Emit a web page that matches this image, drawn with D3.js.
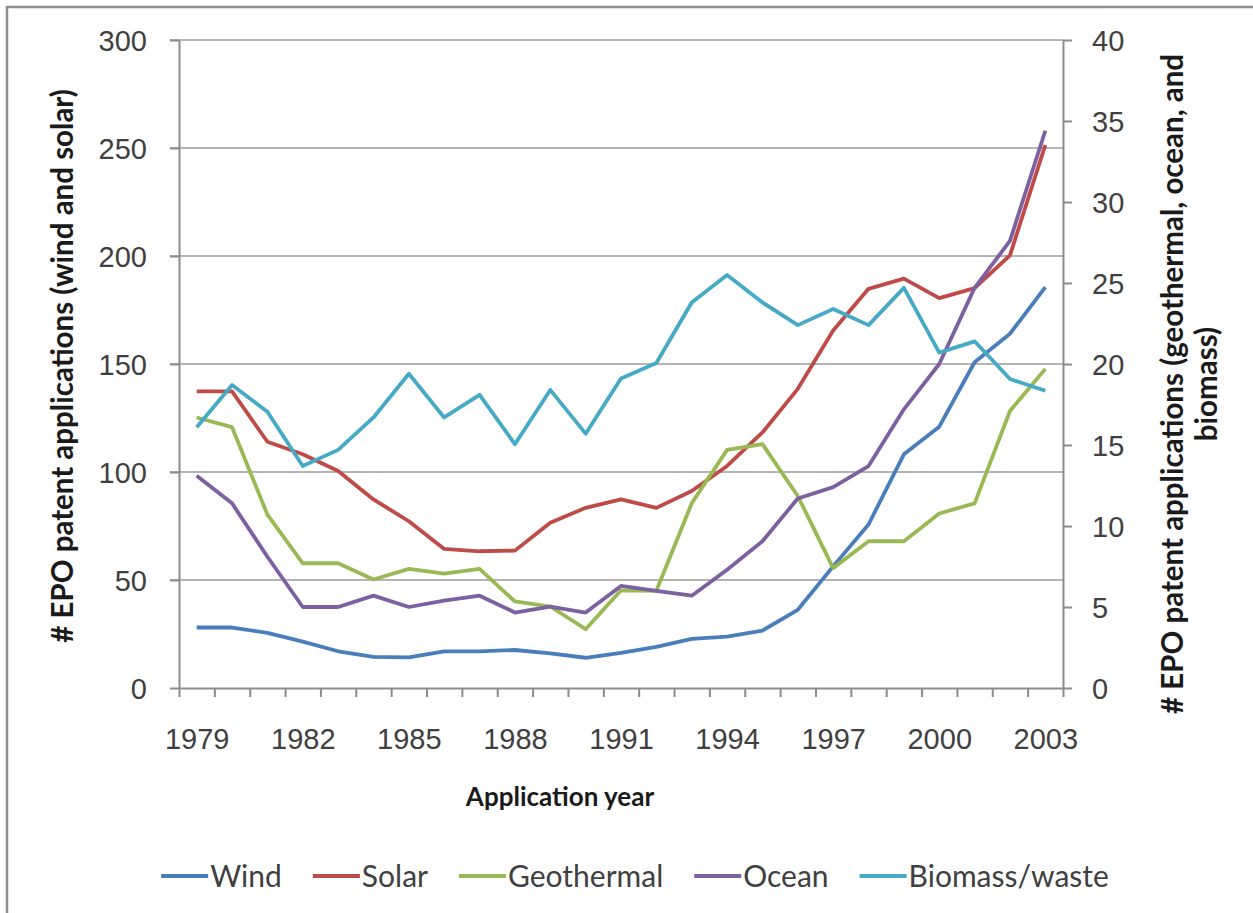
<!DOCTYPE html>
<html lang="en">

<head>
    <meta charset="utf-8">
    <title>EPO patent applications by renewable technology</title>
    <script src="https://cdn.jsdelivr.net/npm/d3@7"></script>
    <style>
        body {
            margin: 0;
            background: white;
        }
        svg {
            font-family: Lato, "Open Sans", sans-serif;
        }
        .axis path,
        .axis line {
            stroke: #8c8c8c;
            stroke-width: 2px;
        }
        .axis text {
            fill: #404040;
            font-size: 29px;
        }
        .grid line {
            stroke: #b4b4b4;
            stroke-width: 2px;
        }
        .series {
            fill: none;
            stroke-width: 3.8px;
            stroke-linejoin: round;
        }
        .title {
            font-weight: bold;
            fill: #1a1a1a;
        }
        .legend text {
            font-size: 30px;
            fill: #404040;
        }
    </style>
</head>

<body>
    <script>
        // ---- data ----
        const years = d3.range(1979, 2004);
        const yearLabels = [1979, 1982, 1985, 1988, 1991, 1994, 1997, 2000, 2003];

        // left axis (wind and solar)
        const wind = [28, 28, 25.5, 21.5, 17, 14.4, 14.2, 17, 17, 17.6, 16, 14, 16.3,
            19, 22.7, 23.8, 26.6, 36.2, 56.3, 75.7, 108.2, 121, 150.8, 164, 185.6];
        const solar = [137.3, 137.3, 114, 108.2, 100.5, 87.3, 77.2, 64.4, 63.3, 63.6, 76.5, 83.4, 87.3,
            83.4, 91.2, 102.8, 118.3, 138.5, 165.5, 184.8, 189.5, 180.5, 185.1, 200.3, 251.4];

        // right axis (geothermal, ocean, biomass)
        const geothermal = [16.7, 16.1, 10.7, 7.7, 7.7, 6.7, 7.35, 7.06, 7.35, 5.34, 5.03, 3.63, 6.03,
            6.0, 11.4, 14.7, 15.05, 11.85, 7.4, 9.06, 9.06, 10.77, 11.4, 17.1, 19.7];
        const ocean = [13.1, 11.4, 8.1, 5.0, 5.0, 5.7, 5.0, 5.4, 5.7, 4.66, 5.03, 4.66, 6.3,
            6.0, 5.7, 7.3, 9.06, 11.7, 12.4, 13.7, 17.2, 20.0, 24.7, 27.6, 34.4];
        const biomass = [16.1, 18.7, 17.05, 13.7, 14.7, 16.7, 19.4, 16.7, 18.1, 15.05, 18.4, 15.7, 19.1,
            20.06, 23.8, 25.5, 23.8, 22.4, 23.4, 22.4, 24.7, 20.7, 21.4, 19.07, 18.35];

        const leftTicks = [0, 50, 100, 150, 200, 250, 300];
        const rightTicks = [0, 5, 10, 15, 20, 25, 30, 35, 40];

        const seriesNames = ['Wind', 'Solar', 'Geothermal', 'Ocean', 'Biomass/waste'];
        const seriesColors = ['#4a7ebb', '#be4b48', '#98b954', '#7d60a0', '#46aac5'];

        // ---- layout ----
        const width = 1253,
            height = 913;
        const plot = { left: 179, right: 1063, top: 40, bottom: 688 };

        const svg = d3.select('body')
            .append('svg')
                .attr('width', width)
                .attr('height', height);

        // outer chart frame (cut off at right and bottom like the original)
        svg.append('rect')
            .attr('x', 7)
            .attr('y', 7)
            .attr('width', width)
            .attr('height', height)
            .attr('fill', 'none')
            .attr('stroke', '#8f8f8f')
            .attr('stroke-width', 2.5);

        // scales
        const x_scale = d3.scalePoint()
            .domain(years)
            .range([plot.left, plot.right])
            .padding(0.5);
        const x_edges = d3.scaleLinear()
            .domain([0, years.length])
            .range([plot.left, plot.right]);
        const y_left = d3.scaleLinear()
            .domain([0, 300])
            .range([plot.bottom, plot.top]);
        const y_right = d3.scaleLinear()
            .domain([0, 40])
            .range([plot.bottom, plot.top]);

        // gridlines (with the outward tick stub on the left)
        svg.append('g')
            .attr('class', 'grid')
            .selectAll('line')
            .data(leftTicks.slice(1))
            .join('line')
                .attr('x1', plot.left - 9)
                .attr('x2', plot.right)
                .attr('y1', d => y_left(d))
                .attr('y2', d => y_left(d));

        // left axis
        const leftAxis = svg.append('g')
            .attr('class', 'y axis')
            .attr('transform', `translate(${plot.left}, 0)`)
            .call(d3.axisLeft(y_left).tickValues(leftTicks).tickSize(9).tickSizeOuter(0).tickPadding(23));
        leftAxis.selectAll('text').attr('dy', '0.35em');

        // right axis
        const rightAxis = svg.append('g')
            .attr('class', 'y2 axis')
            .attr('transform', `translate(${plot.right}, 0)`)
            .call(d3.axisRight(y_right).tickValues(rightTicks).tickSize(9).tickSizeOuter(0).tickPadding(20));
        rightAxis.selectAll('text').attr('dy', '0.35em');

        // x axis: tick marks on category edges, labels every 3rd year
        svg.append('g')
            .attr('class', 'x axis')
            .attr('transform', `translate(0, ${plot.bottom})`)
            .call(d3.axisBottom(x_edges).tickValues(d3.range(years.length + 1)).tickSize(9).tickSizeOuter(0).tickFormat(''));
        const xLabels = svg.append('g')
            .attr('class', 'x axis labels')
            .attr('transform', `translate(0, ${plot.bottom})`)
            .call(d3.axisBottom(x_scale).tickValues(yearLabels).tickSize(0).tickPadding(40));
        xLabels.select('.domain').remove();

        // lines
        const seriesData = [
            { values: wind, y: y_left },
            { values: solar, y: y_left },
            { values: geothermal, y: y_right },
            { values: ocean, y: y_right },
            { values: biomass, y: y_right }
        ];
        svg.append('g')
            .selectAll('path')
            .data(seriesData)
            .join('path')
                .attr('class', 'series')
                .attr('stroke', (d, i) => seriesColors[i])
                .attr('d', s => d3.line()
                    .x((v, i) => x_scale(years[i]))
                    .y(v => s.y(v))(s.values));

        // axis titles
        svg.append('text')
            .attr('class', 'title')
            .attr('font-size', 29.5)
            .attr('text-anchor', 'middle')
            .attr('transform', 'translate(73, 366) rotate(-90)')
            .text('# EPO patent applications (wind and solar)');

        const rightTitle = svg.append('text')
            .attr('class', 'title')
            .attr('font-size', 29.5)
            .attr('text-anchor', 'middle')
            .attr('transform', 'translate(1183, 384) rotate(-90)');
        rightTitle.append('tspan')
            .attr('x', 0)
            .text('# EPO patent applications (geothermal, ocean, and');
        rightTitle.append('tspan')
            .attr('x', 0)
            .attr('dy', 34)
            .text('biomass)');

        svg.append('text')
            .attr('class', 'title')
            .attr('font-size', 26)
            .attr('text-anchor', 'middle')
            .attr('x', 560)
            .attr('y', 806)
            .text('Application year');

        // legend, centred under the chart
        const legend = svg.append('g')
            .attr('class', 'legend');
        const items = legend.selectAll('g')
            .data(seriesNames)
            .join('g');
        items.append('line')
            .attr('x1', 0)
            .attr('x2', 47)
            .attr('y1', 0)
            .attr('y2', 0)
            .attr('stroke', (d, i) => seriesColors[i])
            .attr('stroke-width', 3.8);
        items.append('text')
            .attr('x', 49)
            .attr('dy', '0.35em')
            .text(d => d);

        let offset = 0;
        items.each(function () {
            const w = 49 + this.querySelector('text').getComputedTextLength();
            d3.select(this).attr('data-x', offset);
            offset += w + 31;
        });
        const legendWidth = offset - 31;
        const legendStart = 635 - legendWidth / 2;
        items.attr('transform', function () {
            return `translate(${legendStart + (+this.getAttribute('data-x'))}, 876)`;
        });
    </script>
</body>

</html>
